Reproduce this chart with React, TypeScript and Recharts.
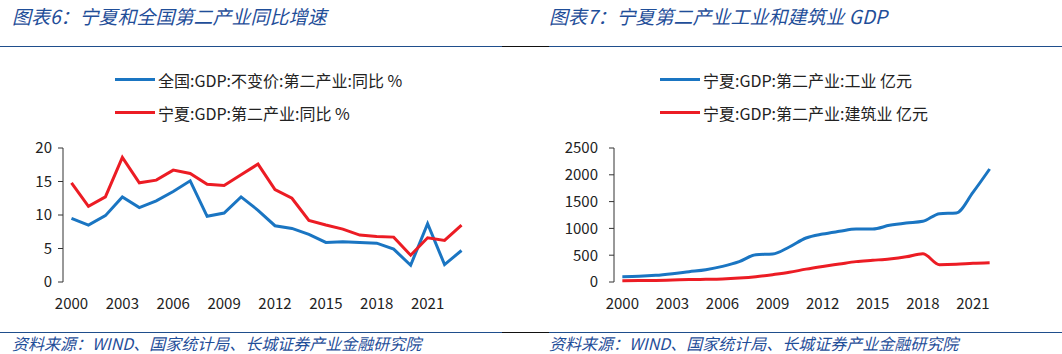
import React from "react";
import { Legend, Line, LineChart, XAxis, YAxis } from "recharts";

const FONT = "'Noto Sans CJK SC', 'Noto Sans', sans-serif";
const TITLE_BLUE = "#1f4e99";
const BLUE = "#1a75c2";
const RED = "#ec1c24";
const INK = "#222";

// 图表6: 2000–2023
const yoyYears = [
  "2000", "2001", "2002", "2003", "2004", "2005", "2006", "2007", "2008", "2009", "2010", "2011",
  "2012", "2013", "2014", "2015", "2016", "2017", "2018", "2019", "2020", "2021", "2022", "2023",
];
const nationalYoY = [
  9.5, 8.5, 9.9, 12.7, 11.1, 12.1, 13.5, 15.1, 9.8, 10.3, 12.7, 10.7,
  8.4, 8.0, 7.1, 5.9, 6.0, 5.9, 5.8, 4.9, 2.5, 8.7, 2.6, 4.7,
];
const ningxiaYoY = [
  14.8, 11.3, 12.7, 18.6, 14.8, 15.2, 16.7, 16.2, 14.6, 14.4, 16.0, 17.6,
  13.8, 12.5, 9.2, 8.5, 7.9, 7.0, 6.8, 6.7, 4.0, 6.6, 6.2, 8.5,
];
const yoyTicks = [0, 5, 10, 15, 20];

// 图表7: 2000–2022
const gdpYears = [
  "2000", "2001", "2002", "2003", "2004", "2005", "2006", "2007", "2008", "2009", "2010", "2011",
  "2012", "2013", "2014", "2015", "2016", "2017", "2018", "2019", "2020", "2021", "2022",
];
const industryGdp = [
  100, 106, 124, 155, 193, 230, 292, 380, 510, 522, 653, 821,
  895, 945, 989, 989, 1057, 1101, 1132, 1275, 1287, 1673, 2108,
];
const constructionGdp = [
  25, 27, 30, 37, 45, 50, 58, 75, 100, 137, 180, 240,
  290, 335, 380, 405, 430, 470, 528, 323, 330, 348, 360,
];
const gdpTicks = [0, 500, 1000, 1500, 2000, 2500];

const labelEvery = 3;

const yoyRows = yoyYears.map((year, i) => ({ i, year, a: nationalYoY[i], b: ningxiaYoY[i] }));
const gdpRows = gdpYears.map((year, i) => ({ i, year, a: industryGdp[i], b: constructionGdp[i] }));

// tick marks sit on category boundaries; labels on every 3rd category centre
const boundaries = (n: number, step: number) => {
  const out: number[] = [];
  for (let k = 0; k < n; k += step) out.push(k - 0.5);
  if (out[out.length - 1] !== n - 0.5) out.push(n - 0.5);
  return out;
};
const labelTicks = (n: number) => {
  const out: number[] = [];
  for (let k = 0; k < n; k += labelEvery) out.push(k);
  return out;
};

const tickStyle = { fill: INK, fontSize: 15, fontFamily: FONT };

function LegendBox({ payload }: any) {
  return (
    <div style={{ fontFamily: FONT, fontSize: 16, color: INK }}>
      {(payload || []).map((p: any) => (
        <div key={p.value} style={{ display: "flex", alignItems: "center", height: 33 }}>
          <span style={{ display: "inline-block", width: 40, height: 3, background: p.color, marginRight: 3 }} />
          <span>{p.value}</span>
        </div>
      ))}
    </div>
  );
}

function Panel({
  rows,
  yTicks,
  yWidth,
  yMargin,
  right,
  tickStep,
  smooth,
  names,
  legendLeft,
}: {
  rows: { i: number; year: string; a: number; b: number }[];
  yTicks: number[];
  yWidth: number;
  yMargin: number;
  right: number;
  tickStep: number;
  smooth: boolean;
  names: [string, string];
  legendLeft: number;
}) {
  const n = rows.length;
  const domain: [number, number] = [-0.5, n - 0.5];
  return (
    <LineChart width={531} height={354} data={rows} margin={{ top: 148, right, bottom: 42, left: 0 }}>
      <XAxis
        xAxisId="marks"
        type="number"
        domain={domain}
        ticks={boundaries(n, tickStep)}
        interval={0}
        height={0}
        tick={false}
        tickSize={5}
        stroke="#333"
      />
      <XAxis
        xAxisId="years"
        dataKey="i"
        type="number"
        domain={domain}
        ticks={labelTicks(n)}
        interval={0}
        height={30}
        axisLine={false}
        tickLine={false}
        tickSize={0}
        tickMargin={16}
        tick={tickStyle}
        tickFormatter={(v: number) => rows[v]?.year ?? ""}
      />
      <YAxis
        domain={[yTicks[0], yTicks[yTicks.length - 1]]}
        ticks={yTicks}
        interval={0}
        width={yWidth}
        tickSize={5}
        tickMargin={yMargin}
        stroke="#333"
        tick={tickStyle}
      />
      <Legend
        layout="vertical"
        align="center"
        verticalAlign="middle"
        content={<LegendBox />}
        wrapperStyle={{ top: 63, left: legendLeft, width: "auto" }}
      />
      <Line
        xAxisId="years"
        dataKey="a"
        name={names[0]}
        type={smooth ? "monotone" : "linear"}
        stroke={BLUE}
        strokeWidth={3}
        dot={false}
        isAnimationActive={false}
      />
      <Line
        xAxisId="years"
        dataKey="b"
        name={names[1]}
        type={smooth ? "monotone" : "linear"}
        stroke={RED}
        strokeWidth={3}
        dot={false}
        isAnimationActive={false}
      />
    </LineChart>
  );
}

const rule = (top: number) => (
  <>
    <div style={{ position: "absolute", top, left: 0, width: 502, height: 1.5, background: "#1f4e8c" }} />
    <div style={{ position: "absolute", top, left: 502, width: 47, height: 1.5, background: "#111" }} />
    <div style={{ position: "absolute", top, left: 549, width: 513, height: 1.5, background: "#1f4e8c" }} />
  </>
);

const headText = {
  position: "absolute" as const,
  fontFamily: FONT,
  fontStyle: "italic" as const,
  color: TITLE_BLUE,
  whiteSpace: "nowrap" as const,
};

const source = "资料来源：WIND、国家统计局、长城证券产业金融研究院";

export default function App() {
  return (
    <div style={{ position: "absolute", left: 0, top: 0, width: 1062, height: 354, background: "#fff", overflow: "hidden" }}>
      <div style={{ ...headText, left: 12, top: 4, fontSize: 19, lineHeight: "24px" }}>图表6：宁夏和全国第二产业同比增速</div>
      <div style={{ ...headText, left: 549, top: 4, fontSize: 19, lineHeight: "24px" }}>图表7：宁夏第二产业工业和建筑业 GDP</div>
      {rule(45.5)}
      <div style={{ position: "absolute", left: 0, top: 0 }}>
        <Panel
          rows={yoyRows}
          yTicks={yoyTicks}
          yWidth={63}
          yMargin={6}
          right={61}
          tickStep={3}
          smooth={false}
          names={["全国:GDP:不变价:第二产业:同比 %", "宁夏:GDP:第二产业:同比 %"]}
          legendLeft={115}
        />
      </div>
      <div style={{ position: "absolute", left: 531, top: 0 }}>
        <Panel
          rows={gdpRows}
          yTicks={gdpTicks}
          yWidth={83}
          yMargin={11}
          right={64}
          tickStep={1}
          smooth={true}
          names={["宁夏:GDP:第二产业:工业 亿元", "宁夏:GDP:第二产业:建筑业 亿元"]}
          legendLeft={129}
        />
      </div>
      {rule(331.5)}
      <div style={{ ...headText, left: 12, top: 334, fontSize: 16, lineHeight: "18px" }}>{source}</div>
      <div style={{ ...headText, left: 549, top: 334, fontSize: 16, lineHeight: "18px" }}>{source}</div>
    </div>
  );
}
